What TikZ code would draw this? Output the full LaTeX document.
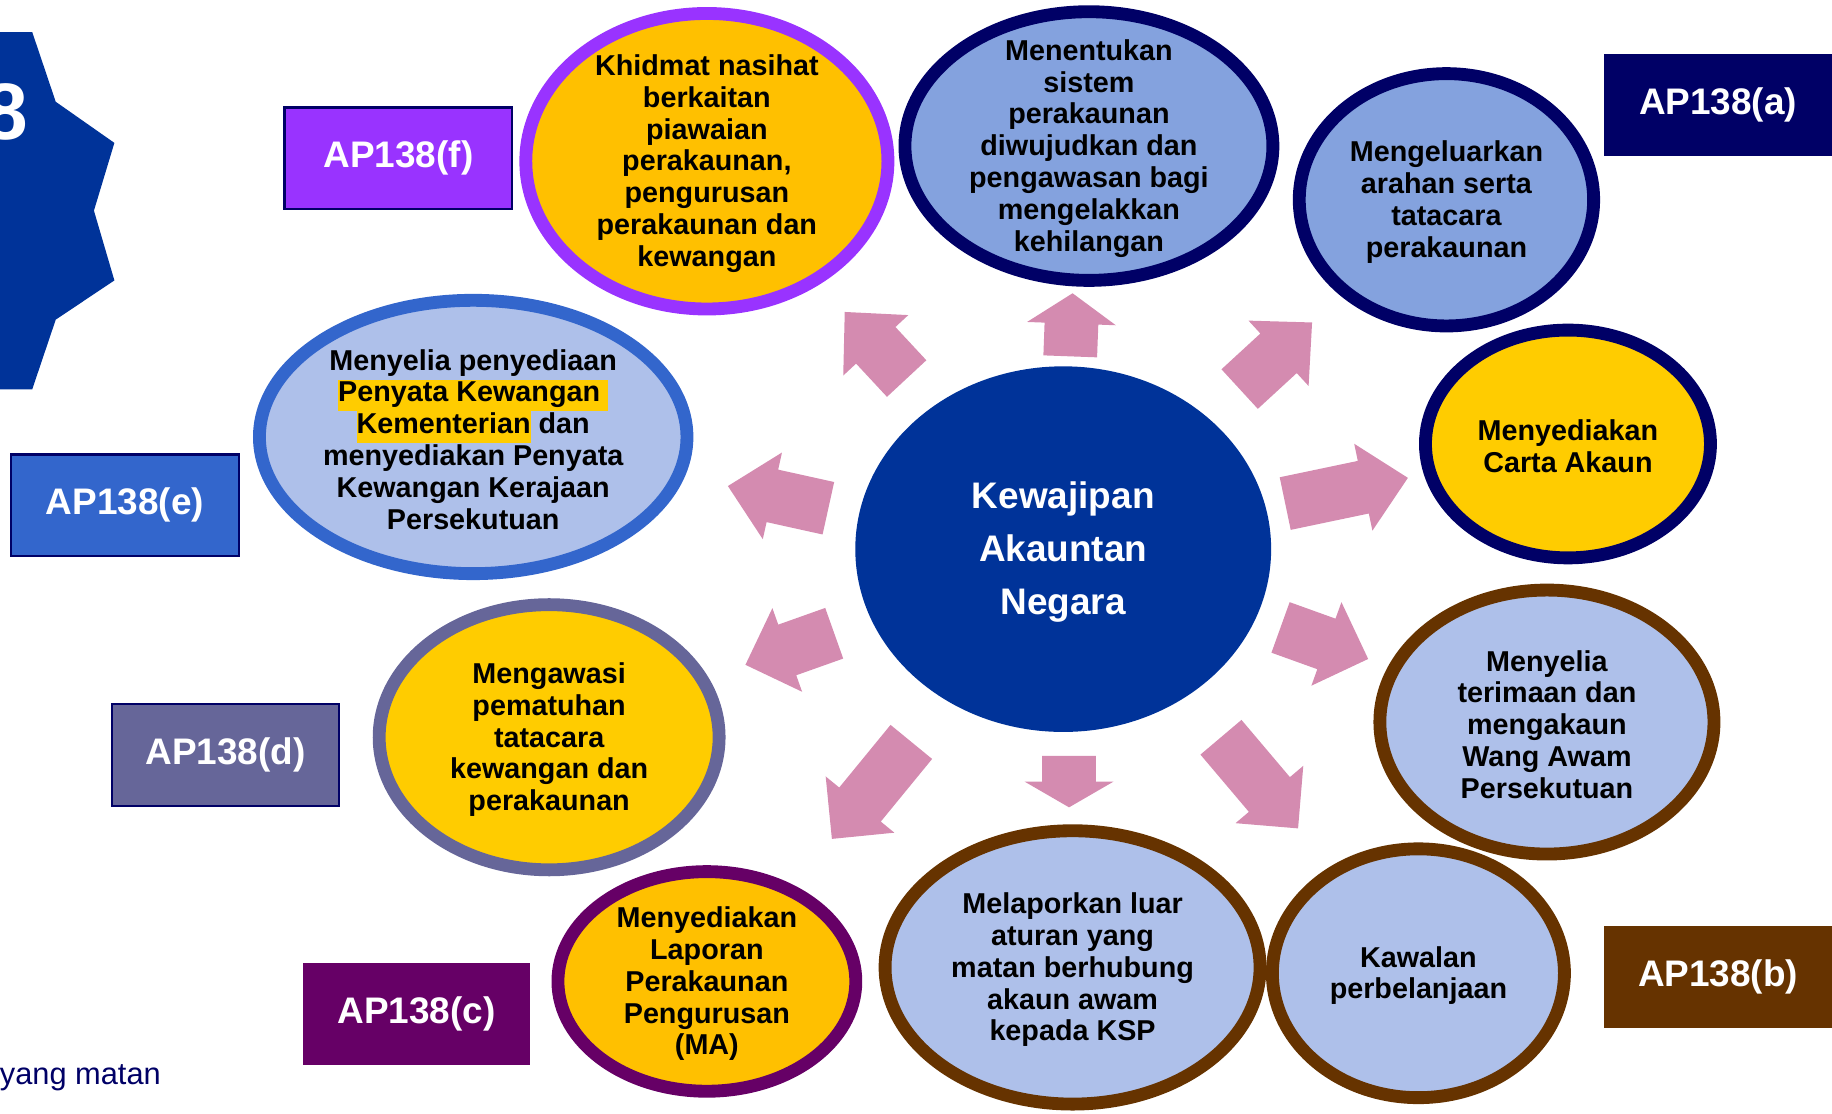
\documentclass[tikz,border=0pt]{standalone}
\usepackage{fontspec}
\setmainfont{Liberation Sans}
\usetikzlibrary{shapes.geometric,calc}

\definecolor{navy}{RGB}{0,0,102}
\definecolor{brownb}{RGB}{102,51,0}
\definecolor{purplef}{RGB}{153,51,255}
\definecolor{bluee}{RGB}{51,102,204}
\definecolor{slated}{RGB}{102,102,153}
\definecolor{plumc}{RGB}{102,0,102}
\definecolor{kanblue}{RGB}{0,51,153}
\definecolor{midblue}{RGB}{132,162,222}
\definecolor{paleblue}{RGB}{174,192,234}
\definecolor{gold}{RGB}{255,192,0}
\definecolor{yellowc}{RGB}{255,204,0}
\definecolor{arrowpink}{RGB}{212,139,176}

\newcommand{\hilite}[1]{{\setlength{\fboxsep}{0pt}\colorbox{yellowc}{\strut #1}}}

\begin{document}
\begin{tikzpicture}[x=0.02cm,y=-0.02cm,
  bubble/.style={ellipse, line width=0.22cm, inner sep=0pt},
  bubbletext/.style={align=center, inner sep=0pt, yshift=-0.04cm, font=\fontsize{14}{15.5}\selectfont\bfseries},
  aplabel/.style={rectangle, minimum width=3.9cm, minimum height=1.74cm, inner sep=0pt,
    text=white, font=\fontsize{18}{21}\selectfont\bfseries}]
  \useasboundingbox (0,0) rectangle (1568,953);

  % star at the left edge
  \fill[kanblue] (-5,27.5) -- (27.6,27.5) -- (47.7,87.1) -- (97.9,122.3) -- (80.4,180.3)
    -- (97.9,240) -- (47.7,273.6) -- (27.6,333.2) -- (-5,333.2) -- cycle;
  \node[text=white, anchor=base east, inner sep=0pt, font=\fontsize{39}{40}\selectfont\bfseries] (num) at (24,119) {8};
  \node[text=navy, anchor=base east, inner sep=0pt, font=\fontsize{15}{18}\selectfont] (note) at (138,928) {yang matan};

  % arrows
  \foreach \bx/\by/\tx/\ty/\hl in {916/305/918/251/0.52, 776/324/723/267/0.78,
      1061/333/1123/276/0.78, 709/435/623/416/0.78, 1100/431/1205/409/0.78,
      714/542/638/569/0.76, 1096/537/1171/564/0.76, 780/635/712/718/0.76,
      915/647/915/691/0.44, 1045/631/1111/709/0.76}{
    \coordinate (base) at (\bx,\by);
    \coordinate (tip) at (\tx,\ty);
    \coordinate (neck) at ($(tip)!\hl cm!(base)$);
    \fill[arrowpink] ($(base)!0.46cm!90:(tip)$) -- ($(neck)!0.46cm!90:(tip)$)
      -- ($(neck)!0.76cm!90:(tip)$) -- (tip) -- ($(neck)!0.76cm!-90:(tip)$)
      -- ($(neck)!0.46cm!-90:(tip)$) -- ($(base)!0.46cm!-90:(tip)$) -- cycle;
  }

  % centre
  \node[ellipse, fill=kanblue, minimum width=7.12cm, minimum height=6.26cm, inner sep=0pt] (akauntan) at (910,470) {};
  \node[align=center, text=white, yshift=-0.05cm, font=\fontsize{18}{26}\selectfont\bfseries] (akauntan-t) at (akauntan) {Kewajipan\\Akauntan\\Negara};

  % duties
  \node[bubble, draw=purplef, fill=gold, minimum width=6.20cm, minimum height=5.06cm] (khidmat) at (605,138) {};
  \node[bubbletext] (khidmat-t) at (khidmat) {Khidmat nasihat\\berkaitan\\piawaian\\perakaunan,\\pengurusan\\perakaunan dan\\kewangan};

  \node[bubble, draw=navy, fill=midblue, minimum width=6.30cm, minimum height=4.60cm] (sistem) at (932,125) {};
  \node[bubbletext] (sistem-t) at (sistem) {Menentukan\\sistem\\perakaunan\\diwujudkan dan\\pengawasan bagi\\mengelakkan\\kehilangan};

  \node[bubble, draw=navy, fill=midblue, minimum width=5.04cm, minimum height=4.32cm] (arahan) at (1238,171) {};
  \node[bubbletext] (arahan-t) at (arahan) {Mengeluarkan\\arahan serta\\tatacara\\perakaunan};

  \node[bubble, draw=navy, fill=yellowc, minimum width=4.88cm, minimum height=3.90cm] (carta) at (1342,380) {};
  \node[bubbletext] (carta-t) at (carta) {Menyediakan\\Carta Akaun};

  \node[bubble, draw=brownb, fill=paleblue, minimum width=5.72cm, minimum height=4.52cm] (terimaan) at (1324,618) {};
  \node[bubbletext] (terimaan-t) at (terimaan) {Menyelia\\terimaan dan\\mengakaun\\Wang Awam\\Persekutuan};

  \node[bubble, draw=brownb, fill=paleblue, minimum width=5.00cm, minimum height=4.26cm] (kawalan) at (1214,833) {};
  \node[bubbletext] (kawalan-t) at (kawalan) {Kawalan\\perbelanjaan};

  \node[bubble, draw=brownb, fill=paleblue, minimum width=6.42cm, minimum height=4.68cm] (ksp) at (918,828) {};
  \node[bubbletext] (ksp-t) at (ksp) {Melaporkan luar\\aturan yang\\matan berhubung\\akaun awam\\kepada KSP};

  \node[bubble, draw=plumc, fill=gold, minimum width=5.10cm, minimum height=3.76cm] (laporan) at (605,840) {};
  \node[bubbletext] (laporan-t) at (laporan) {Menyediakan\\Laporan\\Perakaunan\\Pengurusan\\(MA)};

  \node[bubble, draw=slated, fill=yellowc, minimum width=5.82cm, minimum height=4.54cm] (pematuhan) at (470,631) {};
  \node[bubbletext] (pematuhan-t) at (pematuhan) {Mengawasi\\pematuhan\\tatacara\\kewangan dan\\perakaunan};

  \node[bubble, draw=bluee, fill=paleblue, minimum width=7.32cm, minimum height=4.68cm] (penyata) at (405,374) {};
  \node[bubbletext] (penyata-t) at (penyata) {Menyelia penyediaan\\\hilite{Penyata Kewangan\ }\\\hilite{Kementerian} dan\\menyediakan Penyata\\Kewangan Kerajaan\\Persekutuan};

  % AP138 labels
  \node[aplabel, fill=purplef, draw=navy, line width=1pt] (apf) at (341,135.5) {AP138(f)};
  \node[aplabel, fill=bluee, draw=navy, line width=1pt] (ape) at (107,432.5) {AP138(e)};
  \node[aplabel, fill=slated, draw=navy, line width=1pt] (apd) at (193,646) {AP138(d)};
  \node[aplabel, fill=plumc] (apc) at (356.5,868) {AP138(c)};
  \node[aplabel, fill=navy] (apa) at (1470.5,90) {AP138(a)};
  \node[aplabel, fill=brownb] (apb) at (1470.5,836) {AP138(b)};
\end{tikzpicture}
\end{document}
